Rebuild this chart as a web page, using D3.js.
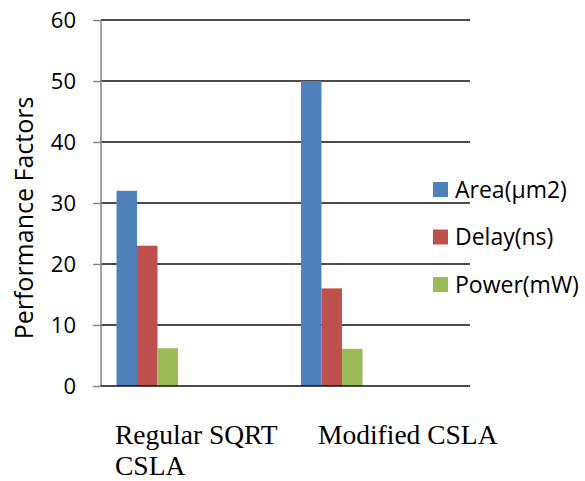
<!DOCTYPE html>
<html>
<head>
<meta charset="utf-8">
<script src="https://cdn.jsdelivr.net/npm/d3@7"></script>
<style>
  body { margin: 0; background: #fff; }
  svg { display: block; }
</style>
</head>
<body>
<svg id="drawing_region"></svg>
<script>
// chart values
const categories = ["Regular SQRT CSLA", "Modified CSLA"];
const seriesNames = ["Area(\u00b5m2)", "Delay(ns)", "Power(mW)"];
const areaValues = [32, 50];
const delayValues = [23, 16];
const powerValues = [6.2, 6.1];
const yTicks = [0, 10, 20, 30, 40, 50, 60];
const xLabelLines = [["Regular SQRT", "CSLA"], ["Modified CSLA"]];

const seriesValues = [areaValues, delayValues, powerValues];
const colors = ["#4F81BD", "#C0504D", "#9BBB59"];

const config = {
    width: 585,
    height: 481,
    plot: {left: 101, right: 470, top: 20, bottom: 386}
};

const svg = d3.select('#drawing_region')
    .attr('width', config.width)
    .attr('height', config.height);

const yScale = d3.scaleLinear()
    .domain([0, 60])
    .range([config.plot.bottom, config.plot.top]);

const x0 = d3.scaleBand()
    .domain(categories)
    .range([config.plot.left, config.plot.right])
    .padding(0);

// bars sit at the left part of each category band
const x1 = d3.scaleBand()
    .domain(seriesNames)
    .range([15.5, 15.5 + 61.5])
    .padding(0);

// gridlines
svg.append('g')
    .selectAll('line')
    .data(yTicks.filter(d => d > 0))
    .enter()
    .append('line')
    .attr('x1', config.plot.left)
    .attr('x2', config.plot.right)
    .attr('y1', d => yScale(d))
    .attr('y2', d => yScale(d))
    .attr('stroke', '#111')
    .attr('stroke-width', 1.5);

// y axis
const yAxis = d3.axisLeft(yScale)
    .tickValues(yTicks)
    .tickSize(8)
    .tickPadding(17)
    .tickFormat(d3.format('d'));

const yAxisG = svg.append('g')
    .attr('transform', `translate(${config.plot.left}, 0)`)
    .call(yAxis);

yAxisG.select('.domain')
    .attr('stroke', '#868686')
    .attr('stroke-width', 1.5)
    .attr('d', `M0,${config.plot.top}V${config.plot.bottom}`);
yAxisG.selectAll('.tick line')
    .attr('stroke', '#868686')
    .attr('stroke-width', 1.5);
yAxisG.selectAll('.tick text')
    .attr('fill', '#000')
    .attr('font-family', '"Open Sans", sans-serif')
    .attr('font-size', '22px');

// bars
const groups = svg.append('g')
    .selectAll('g')
    .data(seriesNames)
    .enter()
    .append('g')
    .attr('fill', (d, i) => colors[i]);

groups.selectAll('rect')
    .data((s, i) => categories.map((c, j) => ({cat: c, series: s, value: seriesValues[i][j]})))
    .enter()
    .append('rect')
    .attr('x', d => x0(d.cat) + x1(d.series))
    .attr('y', d => yScale(d.value))
    .attr('width', x1.bandwidth())
    .attr('height', d => yScale(0) - yScale(d.value));

// bottom axis line
svg.append('line')
    .attr('x1', config.plot.left)
    .attr('x2', config.plot.right)
    .attr('y1', yScale(0))
    .attr('y2', yScale(0))
    .attr('stroke', '#111')
    .attr('stroke-width', 1.5);

// category labels
const labelX = [115, 318];
xLabelLines.forEach((lines, i) => {
    const t = svg.append('text')
        .attr('x', labelX[i])
        .attr('y', 444)
        .attr('font-family', '"Liberation Serif", "Times New Roman", serif')
        .attr('font-size', '27.5px')
        .attr('fill', '#000');
    lines.forEach((line, k) => {
        t.append('tspan')
            .attr('x', labelX[i])
            .attr('dy', k === 0 ? 0 : 31)
            .text(line);
    });
});

// y axis title
svg.append('text')
    .attr('transform', 'translate(33, 218) rotate(-90)')
    .attr('text-anchor', 'middle')
    .attr('font-family', '"Open Sans", sans-serif')
    .attr('font-size', '25px')
    .attr('fill', '#000')
    .text('Performance Factors');

// legend
const legend = svg.append('g')
    .selectAll('g')
    .data(seriesNames)
    .enter()
    .append('g')
    .attr('transform', (d, i) => `translate(433, ${182 + i * 47.5})`);

legend.append('rect')
    .attr('width', 15)
    .attr('height', 15)
    .attr('fill', (d, i) => colors[i]);

legend.append('text')
    .attr('x', 22)
    .attr('y', 7.5)
    .attr('dy', '0.35em')
    .attr('font-family', '"Open Sans", sans-serif')
    .attr('font-size', '23px')
    .attr('fill', '#000')
    .text(d => d);
</script>
</body>
</html>
